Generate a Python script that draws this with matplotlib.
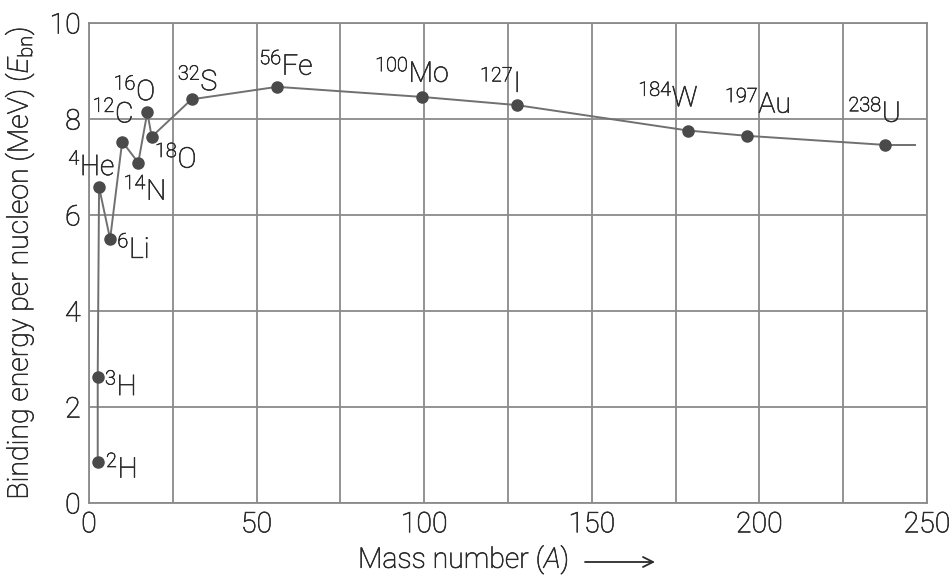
import matplotlib
matplotlib.use("Agg")
import matplotlib.pyplot as plt
import matplotlib.patheffects as pe

# === DATA ===
nuclides = ["2H", "3H", "4He", "6Li", "12C", "14N", "16O", "18O", "32S",
            "56Fe", "100Mo", "127I", "184W", "197Au", "238U"]
mass_pos = [2.6, 2.6, 3.0, 6.3, 9.9, 14.7, 17.4, 18.7, 30.6,
            56.1, 99.3, 127.6, 178.7, 196.2, 237.5]
binding = [0.86, 2.62, 6.58, 5.50, 7.53, 7.09, 8.14, 7.63, 8.41,
           8.67, 8.46, 8.29, 7.76, 7.65, 7.46]
tail_x = [237.5, 246.4]
tail_y = [7.46, 7.46]

# label offsets (pixels) from each point, left/baseline anchored
label_offsets = [(8, -16), (7, -18), (-31, 12), (7, -19), (-30, 19), (-15, -37),
                 (-34, 12), (3, -31), (-14, 9), (-18, 12), (-47, 15), (-37, 13),
                 (-50, 24), (-22, 23), (-37, 23)]

plt.rcParams['font.family'] = ['Roboto', 'DejaVu Sans']
plt.rcParams['font.weight'] = 'light'
plt.rcParams['axes.labelweight'] = 'light'
plt.rcParams['mathtext.fontset'] = 'custom'
plt.rcParams['mathtext.rm'] = 'Roboto:light'
plt.rcParams['mathtext.it'] = 'Roboto:italic:light'

GRID = '#8a8a8a'
TXT = '#2a2a2a'
thicken = [pe.withStroke(linewidth=0.45, foreground=TXT)]

fig = plt.figure(figsize=(9.52, 5.77), dpi=100)
ax = fig.add_axes([89 / 952, 1 - 503 / 577, (927 - 89) / 952, (503 - 23) / 577])

ax.plot(mass_pos, binding, '-', color='#707070', lw=1.4, zorder=3)
ax.plot(tail_x, tail_y, '-', color='#707070', lw=1.4, zorder=3)
ax.plot(mass_pos, binding, 'o', color='#4a4a4a', ms=8, zorder=4)

texts = []
for name, x, y, off in zip(nuclides, mass_pos, binding, label_offsets):
    num = ''.join(c for c in name if c.isdigit())
    sym = ''.join(c for c in name if c.isalpha())
    t = ax.annotate(f"$^{{{num}}}$" + sym, (x, y), xytext=off, textcoords='offset pixels',
                    ha='left', va='baseline', fontsize=20.5, color=TXT, zorder=5)
    texts.append(t)

ax.set_xlim(0, 250)
ax.set_ylim(0, 10)
ax.set_xticks(range(0, 251, 25))
ax.set_xticklabels([str(v) if v % 50 == 0 else '' for v in range(0, 251, 25)])
ax.set_yticks(range(0, 11, 2))
ax.grid(True, color=GRID, lw=1.3)
ax.set_axisbelow(True)
for s in ax.spines.values():
    s.set_color(GRID)
    s.set_linewidth(1.3)
ax.tick_params(length=0, labelsize=20.5, labelcolor=TXT, pad=6)

ylab = ax.set_ylabel("Binding energy per nucleon (MeV) ($E_{\\mathrm{bn}}$)", fontsize=20.5, color=TXT)
ax.yaxis.set_label_coords(-0.063, 0.5)
xlab = fig.text(358 / 952, 1 - 568 / 577, "Mass number ($A$)", fontsize=20.5, color=TXT,
                ha='left', va='baseline')
ax.annotate("", xy=(655 / 952, 1 - 562 / 577), xytext=(585 / 952, 1 - 562 / 577),
            xycoords='figure fraction', textcoords='figure fraction',
            arrowprops=dict(arrowstyle='->', color=TXT, lw=1.3,
                            mutation_scale=18, shrinkA=0, shrinkB=0))

texts += [ylab, xlab] + ax.get_xticklabels() + ax.get_yticklabels()
for t in texts:
    t.set_path_effects(thicken)

fig.savefig("out.png", dpi=100)
